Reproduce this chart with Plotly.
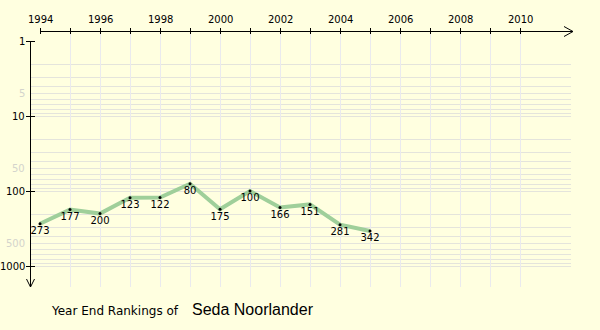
import numpy as np
import plotly.graph_objects as go

# ---- data ----
years = [1994, 1995, 1996, 1997, 1998, 1999, 2000, 2001, 2002, 2003, 2004, 2005]
ranks = [273, 177, 200, 123, 122, 80, 175, 100, 166, 151, 281, 342]
player = "Seda Noorlander"
title_prefix = "Year End Rankings of"

tick_years = list(range(1994, 2011))
label_years = list(range(1994, 2011, 2))
grid_years = list(range(1995, 2011))
y_major = [1, 10, 100, 1000]
y_faint = [5, 50, 500]
grid_values = [m * 10 ** e for e in range(0, 3) for m in range(2, 11)]

# ---- geometry (pixels) ----
W, H = 600, 330
X0_PX, X_PER_YEAR = 40, 30
Y0_PX, Y_PER_DECADE = 41, 75
xr = [1994 - X0_PX / X_PER_YEAR, 1994 + (W - X0_PX) / X_PER_YEAR]
yr = [(H - Y0_PX) / Y_PER_DECADE, -Y0_PX / Y_PER_DECADE]


def px2x(px):
    return 1994 + (px - X0_PX) / X_PER_YEAR


def px2y(py):
    return 10 ** ((py - Y0_PX) / Y_PER_DECADE)


def y2px(v):
    return Y0_PX + Y_PER_DECADE * np.log10(v)


def x2px(x):
    return X0_PX + (x - 1994) * X_PER_YEAR


def segs(pairs):
    xs, ys = [], []
    for (xa, ya), (xb, yb) in pairs:
        xs += [xa, xb, None]
        ys += [ya, yb, None]
    return xs, ys


fig = go.Figure()

# horizontal grid
hpairs = []
for v in grid_values:
    py = round(y2px(v)) + 0.5
    hpairs.append(((px2x(30), px2y(py)), (px2x(571), px2y(py))))
hx, hy = segs(hpairs)
fig.add_trace(go.Scatter(x=hx, y=hy, mode="lines", line=dict(color="#e4e4dc", width=1),
                         hoverinfo="skip", showlegend=False))

# vertical grid
vpairs = []
for yv in grid_years:
    px = x2px(yv) + 0.5
    vpairs.append(((px2x(px), px2y(31)), (px2x(px), px2y(287))))
vx, vy = segs(vpairs)
fig.add_trace(go.Scatter(x=vx, y=vy, mode="lines", line=dict(color="#eaeaee", width=1),
                         hoverinfo="skip", showlegend=False))

# axes, ticks, arrows
apairs = []
ay = 31.5
apairs.append(((px2x(40), px2y(ay)), (px2x(573), px2y(ay))))
for yv in tick_years:
    px = x2px(yv) + 0.5
    apairs.append(((px2x(px), px2y(28)), (px2x(px), px2y(34))))
apairs.append(((px2x(564), px2y(26.5)), (px2x(573), px2y(ay))))
apairs.append(((px2x(573), px2y(ay)), (px2x(564), px2y(36.5))))
axp = 30.5
apairs.append(((px2x(axp), px2y(41)), (px2x(axp), px2y(287))))
for v in y_major:
    py = round(y2px(v)) + 0.5
    apairs.append(((px2x(26), px2y(py)), (px2x(35), px2y(py))))
apairs.append(((px2x(26.5), px2y(279)), (px2x(axp), px2y(287))))
apairs.append(((px2x(axp), px2y(287)), (px2x(34.5), px2y(279))))
ax_, ay_ = segs(apairs)
fig.add_trace(go.Scatter(x=ax_, y=ay_, mode="lines", line=dict(color="#000000", width=1),
                         hoverinfo="skip", showlegend=False))

# data line
fig.add_trace(go.Scatter(
    x=years, y=ranks, mode="lines+markers+text",
    line=dict(color="#9fcf9a", width=4),
    marker=dict(color="#000000", size=3),
    text=[str(r) for r in ranks], textposition="bottom center",
    textfont=dict(family="DejaVu Sans", size=10, color="#000000"),
    hoverinfo="skip", showlegend=False))

annotations = []
for yv in label_years:
    annotations.append(dict(x=yv, y=1 - 20 / H, xref="x", yref="paper", yanchor="middle",
                            xanchor="center", text=str(yv), showarrow=False,
                            font=dict(family="DejaVu Sans", size=10, color="#000000")))
for v in y_major:
    annotations.append(dict(x=26.5 / W, y=np.log10(v), xref="paper", yref="y",
                            xanchor="right", yanchor="middle", text=str(v), showarrow=False,
                            font=dict(family="DejaVu Sans", size=10, color="#000000")))
for v in y_faint:
    annotations.append(dict(x=26.5 / W, y=np.log10(v), xref="paper", yref="y",
                            xanchor="right", yanchor="middle", text=str(v), showarrow=False,
                            font=dict(family="DejaVu Sans", size=10, color="#d4d4cc")))
annotations.append(dict(x=49 / W, y=1 - 311 / H, xref="paper", yref="paper",
                        xanchor="left", yanchor="middle", text=title_prefix, showarrow=False,
                        font=dict(family="DejaVu Sans", size=12, color="#000000")))
annotations.append(dict(x=190 / W, y=1 - 309 / H, xref="paper", yref="paper",
                        xanchor="left", yanchor="middle", text=player, showarrow=False,
                        font=dict(family="Liberation Sans", size=16, color="#000000")))

fig.update_layout(
    width=W, height=H,
    margin=dict(l=0, r=0, t=0, b=0, pad=0),
    paper_bgcolor="#ffffe0", plot_bgcolor="#ffffe0",
    xaxis=dict(range=xr, visible=False, fixedrange=True),
    yaxis=dict(type="log", range=yr, visible=False, fixedrange=True),
    annotations=annotations,
    showlegend=False,
)

fig.write_html("out.html")
